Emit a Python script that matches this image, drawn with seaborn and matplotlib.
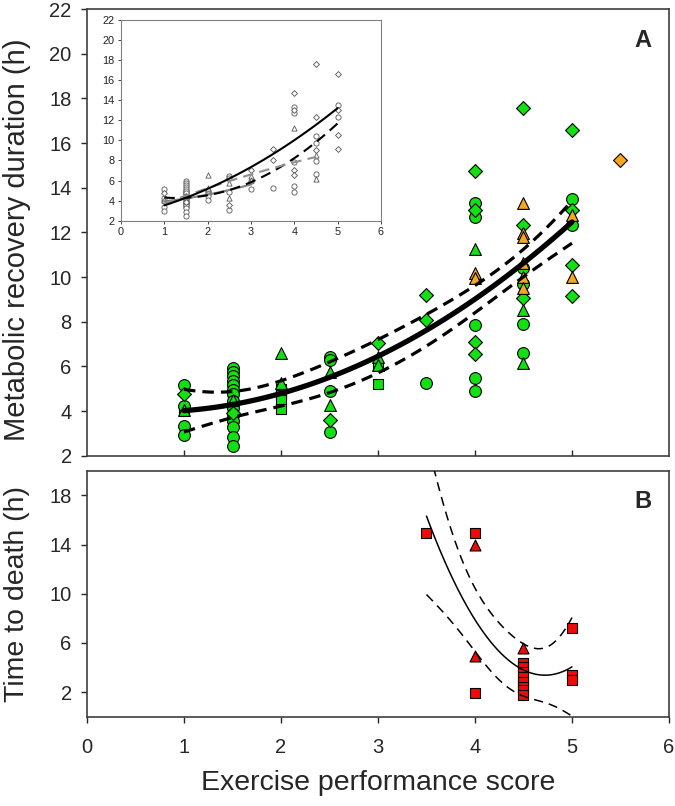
import numpy as np
import pandas as pd
import matplotlib
matplotlib.use("Agg")
import matplotlib.pyplot as plt
import seaborn as sns

# ---- panel A data (x = exercise score, y = recovery hours) ----
a_circ_x = [1, 1, 1, 1,
            1.5, 1.5, 1.5, 1.5, 1.5, 1.5, 1.5, 1.5, 1.5, 1.5, 1.5, 1.5, 1.5, 1.5,
            2.5, 2.5, 2.5, 2.5, 3.5, 4, 4, 4, 4, 4, 4.5, 4.5, 4.5, 4.5, 5, 5]
a_circ_y = [5.16, 4.22, 3.33, 2.92,
            5.92, 5.75, 5.55, 5.35, 5.16, 4.95, 4.75, 4.45, 4.15, 3.85, 3.55, 3.3, 2.83, 2.45,
            6.42, 6.3, 4.89, 3.06, 5.25, 13.33, 12.7, 7.85, 5.47, 4.89, 10.4, 9.7, 7.9, 6.61, 13.5, 12.33]
a_tri_x = [1, 1.5, 1.5, 2, 2, 2.5, 2.5, 3, 3, 4, 4.5, 4.5]
a_tri_y = [4.04, 4.5, 4.0, 6.6, 5.25, 5.74, 4.27, 6.42, 6.06, 11.25, 8.52, 6.15]
a_dia_x = [1, 1.5, 2.5, 3, 3.5, 3.5, 4, 4, 4, 4, 4.5, 4.5, 4.5, 5, 5, 5, 5]
a_dia_y = [4.76, 3.9, 3.6, 7.06, 9.19, 8.07, 14.76, 13.0, 7.1, 6.55, 17.57, 12.33, 9.06,
           16.58, 13.0, 10.54, 9.15]
a_sq_x = [1, 1.5, 1.5, 1.5, 1.5, 1.5, 1.5, 1.5, 1.5, 1.5, 2, 2, 2, 2, 2, 3, 3]
a_sq_y = [4.0, 5.0, 4.8, 4.6, 4.4, 4.2, 4.0, 3.8, 3.6, 3.4, 5.0, 4.85, 4.7, 4.5, 4.09, 6.0, 5.2]
a_otri_x = [4, 4, 4.5, 4.5, 4.5, 4.5, 4.5, 4.5, 5, 5]
a_otri_y = [10.18, 9.95, 13.3, 11.97, 11.8, 10.64, 10.0, 9.5, 12.77, 10.0]
a_odia_x = [5.5]
a_odia_y = [15.24]

# ---- panel B data (time to death) ----
b_sq_x = [3.5, 4, 4, 4.5, 4.5, 4.5, 4.5, 4.5, 4.5, 4.5, 4.5, 5, 5, 5]
b_sq_y = [14.9, 14.96, 1.9, 4.4, 4.0, 3.6, 3.2, 2.8, 2.4, 2.2, 1.8, 7.19, 3.39, 2.98]
b_tri_x = [4, 4, 4.5]
b_tri_y = [13.96, 4.93, 5.56]

GREEN = "#12e012"
ORANGE = "#f5a623"
RED = "#ee0a0a"
SPINE = "#404040"


def quad_band(x, y, grid):
    x = np.asarray(x, float)
    y = np.asarray(y, float)
    X = np.vander(x, 3)
    coef = np.linalg.lstsq(X, y, rcond=None)[0]
    G = np.vander(grid, 3)
    fit = G @ coef
    dof = len(x) - 3
    s2 = np.sum((y - X @ coef) ** 2) / dof
    cov = s2 * np.linalg.inv(X.T @ X)
    se = np.sqrt(np.einsum("ij,jk,ik->i", G, cov, G))
    try:
        from scipy import stats
        t = stats.t.ppf(0.975, dof)
    except Exception:
        t = 1.96 + 2.5 / dof
    return fit - t * se, fit + t * se


sns.set_style("ticks")
plt.rcParams["font.family"] = ["Liberation Sans", "DejaVu Sans"]
plt.rcParams["axes.edgecolor"] = SPINE
plt.rcParams["axes.linewidth"] = 1.2

fig = plt.figure(figsize=(6.75, 8.06), dpi=100)
ax_a = fig.add_axes([0.1289, 0.4346, 0.8622, 0.5542])
ax_b = fig.add_axes([0.1289, 0.1108, 0.8622, 0.3052])

# ---- panel A ----
groups_a = [
    (a_sq_x, a_sq_y, "s", 48, GREEN),
    (a_circ_x, a_circ_y, "o", 72, GREEN),
    (a_tri_x, a_tri_y, "^", 72, GREEN),
    (a_dia_x, a_dia_y, "D", 50, GREEN),
    (a_otri_x, a_otri_y, "^", 72, ORANGE),
    (a_odia_x, a_odia_y, "D", 50, ORANGE),
]
for gx, gy, m, s, c in groups_a:
    sns.scatterplot(x=gx, y=gy, marker=m, s=s, color=c, edgecolor="black",
                    linewidth=0.8, ax=ax_a, zorder=3)

all_ax = np.concatenate([a_circ_x, a_tri_x, a_dia_x, a_sq_x, a_otri_x, a_odia_x])
all_ay = np.concatenate([a_circ_y, a_tri_y, a_dia_y, a_sq_y, a_otri_y, a_odia_y])
fit_df = pd.DataFrame({"x": all_ax, "y": all_ay})
grid_a = np.linspace(1, 5, 120)
sns.regplot(data=fit_df, x="x", y="y", order=2, scatter=False, ci=None,
            truncate=False, ax=ax_a, line_kws=dict(color="black", lw=3.8, zorder=4))
# regplot extends over the axis range; clip to 1..5 afterwards
ax_a.lines[-1].set_data(grid_a, np.polyval(np.polyfit(all_ax, all_ay, 2), grid_a))
lo_a, hi_a = quad_band(all_ax, all_ay, grid_a)
for band in (lo_a, hi_a):
    ax_a.plot(grid_a, band, color="black", lw=2.3, ls=(0, (3.6, 2.2)), zorder=4)

ax_a.set_xlim(0, 6)
ax_a.set_ylim(2, 22)
ax_a.set_yticks(range(2, 23, 2))
ax_a.set_xticks([1, 2, 3, 4, 5])
ax_a.tick_params(axis="x", direction="in", length=4, width=1.0, labelbottom=False)
ax_a.tick_params(axis="y", direction="out", length=4, width=1.0, pad=7, labelsize=14.5)
ax_a.set_xlabel("")
ax_a.set_ylabel("")
ax_a.text(0.955, 0.93, "A", transform=ax_a.transAxes, fontsize=17,
          fontweight="bold", ha="center", va="center")

# ---- inset (grayscale, green data only) ----
ax_in = fig.add_axes([0.1793, 0.7262, 0.3851, 0.2490])
inset_groups = [
    (a_sq_x, a_sq_y, "o", 14, "#808080", "-"),
    (a_circ_x, a_circ_y, "o", 14, "black", (0, (5, 3))),
    (a_tri_x, a_tri_y, "^", 14, "#909090", (0, (5, 3))),
    (a_dia_x, a_dia_y, "D", 9, "black", "-"),
]
for gx, gy, m, s, lc, ls in inset_groups:
    sns.scatterplot(x=gx, y=gy, marker=m, s=s, facecolor="white", edgecolor="#555555",
                    linewidth=0.6, ax=ax_in, zorder=3)
for gx, gy, m, s, lc, ls in inset_groups:
    sns.regplot(x=np.asarray(gx, float), y=np.asarray(gy, float), order=2,
                scatter=False, ci=None, truncate=True, ax=ax_in,
                line_kws=dict(color=lc, lw=1.5, ls=ls, zorder=4))
ax_in.set_xlim(0, 6)
ax_in.set_ylim(2, 22)
ax_in.set_xticks(range(0, 7))
ax_in.set_yticks(range(2, 23, 2))
ax_in.tick_params(length=2.5, width=0.6, pad=2, labelsize=7.8, colors="#222222")
for sp in ax_in.spines.values():
    sp.set_color("#808080")
    sp.set_linewidth(0.8)

# ---- panel B ----
sns.scatterplot(x=b_sq_x, y=b_sq_y, marker="s", s=48, color=RED, edgecolor="black",
                linewidth=0.8, ax=ax_b, zorder=3)
sns.scatterplot(x=b_tri_x, y=b_tri_y, marker="^", s=62, color=RED, edgecolor="black",
                linewidth=0.8, ax=ax_b, zorder=3)
all_bx = np.concatenate([b_sq_x, b_tri_x])
all_by = np.concatenate([b_sq_y, b_tri_y])
sns.regplot(x=all_bx, y=all_by, order=2, scatter=False, ci=None, truncate=True,
            ax=ax_b, line_kws=dict(color="black", lw=1.1, zorder=4))
grid_b = np.linspace(3.5, 5, 100)
lo_b, hi_b = quad_band(all_bx, all_by, grid_b)
for band in (lo_b, hi_b):
    ax_b.plot(grid_b, band, color="black", lw=1.1, ls=(0, (6, 4)), zorder=4)

ax_b.set_xlim(0, 6)
ax_b.set_ylim(0, 20)
ax_b.set_xticks(range(0, 7))
ax_b.set_yticks([2, 6, 10, 14, 18])
ax_b.tick_params(axis="both", direction="out", length=4, width=1.0, labelsize=14.5)
ax_b.tick_params(axis="y", pad=7)
ax_b.tick_params(axis="x", pad=11)
ax_b.set_xlabel("")
ax_b.set_ylabel("")
ax_b.text(0.955, 0.873, "B", transform=ax_b.transAxes, fontsize=17,
          fontweight="bold", ha="center", va="center")

# axis titles placed in figure coordinates
fig.text(17 / 675, 1 - 240 / 806, "Metabolic recovery duration (h)", rotation=90,
         fontsize=21, ha="center", va="center")
fig.text(17 / 675, 1 - 594 / 806, "Time to death (h)", rotation=90,
         fontsize=20.5, ha="center", va="center")
fig.text(378 / 675, 1 - 783 / 806, "Exercise performance score",
         fontsize=20.5, ha="center", va="center")

fig.savefig("out.png", dpi=100)
